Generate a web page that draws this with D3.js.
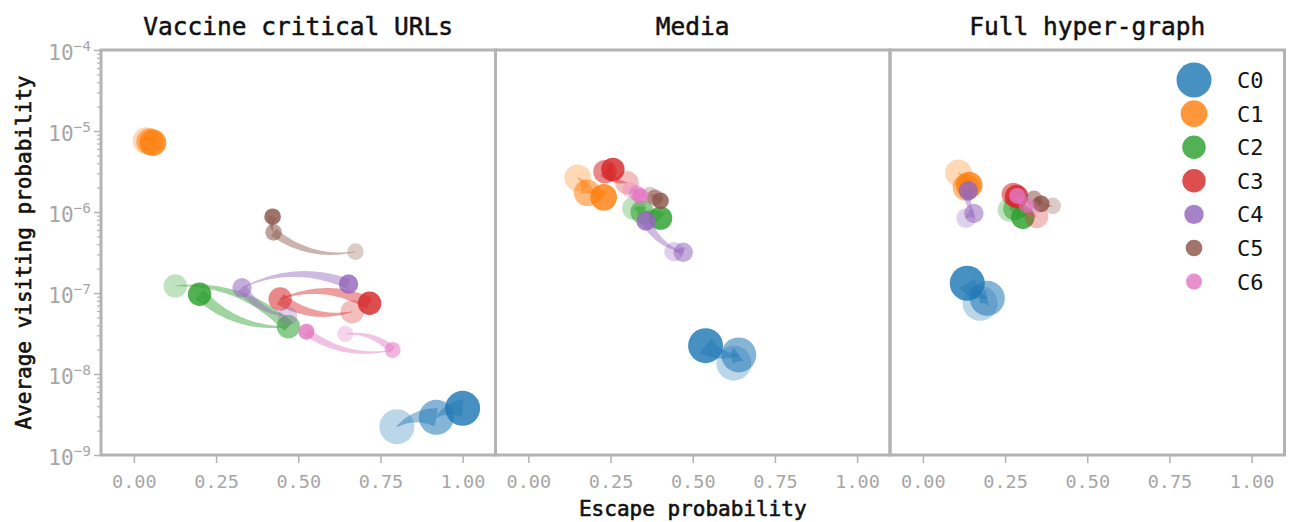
<!DOCTYPE html>
<html>
<head>
<meta charset="utf-8">
<script src="https://cdn.jsdelivr.net/npm/d3@7"></script>
<style>
body { margin: 0; background: #fff; }
text { font-family: "DejaVu Sans Mono", monospace; }
</style>
</head>
<body>
<div id="chart"></div>
<script>

const panelTitles = ["Vaccine critical URLs", "Media", "Full hyper-graph"]
const clusters = ["C0", "C1", "C2", "C3", "C4", "C5", "C6"]
const clusterSize = [306, 177, 137, 137, 94, 69, 64]
const xTicks = [0, 0.25, 0.5, 0.75, 1]
const yTicks = [1e-9, 1e-8, 1e-7, 1e-6, 1e-5, 1e-4]

// three snapshots per cluster, oldest first
const escVaccine = [
  [0.80, 0.92, 1.00], [0.037, 0.048, 0.058], [0.126, 0.47, 0.20], [0.664, 0.445, 0.717],
  [0.468, 0.329, 0.653], [0.674, 0.425, 0.422], [0.643, 0.787, 0.525]
]
const visVaccine = [
  [2.24e-9, 2.92e-9, 3.77e-9], [7.6e-6, 7.4e-6, 7.17e-6], [1.22e-7, 3.84e-8, 9.64e-8], [5.88e-8, 8.43e-8, 7.46e-8],
  [5.2e-8, 1.16e-7, 1.29e-7], [3.24e-7, 5.61e-7, 8.75e-7], [3.12e-8, 1.98e-8, 3.33e-8]
]
const escMedia = [
  [0.625, 0.640, 0.539], [0.150, 0.179, 0.229], [0.321, 0.346, 0.402], [0.30, 0.233, 0.257],
  [0.443, 0.471, 0.358], [0.37, 0.385, 0.402], [0.31, 0.33, 0.34]
]
const visMedia = [
  [1.36e-8, 1.72e-8, 2.24e-8], [2.65e-6, 1.73e-6, 1.52e-6], [1.11e-6, 1.0e-6, 8.4e-7], [2.3e-6, 3.15e-6, 3.36e-6],
  [3.24e-7, 3.18e-7, 7.74e-7], [1.62e-6, 1.5e-6, 1.37e-6], [1.86e-6, 1.7e-6, 1.58e-6]
]
const escFull = [
  [0.174, 0.196, 0.135], [0.108, 0.131, 0.141], [0.263, 0.28, 0.304], [0.346, 0.275, 0.285],
  [0.131, 0.155, 0.138], [0.395, 0.338, 0.36], [0.33, 0.315, 0.287]
]
const visFull = [
  [7.46e-8, 8.6e-8, 1.32e-7], [3.05e-6, 2.02e-6, 2.15e-6], [1.06e-6, 1.1e-6, 8.6e-7], [8.8e-7, 1.65e-6, 1.55e-6],
  [8.36e-7, 9.6e-7, 1.83e-6], [1.19e-6, 1.45e-6, 1.26e-6], [1.1e-6, 1.22e-6, 1.58e-6]
]

const panels = [
  { title: panelTitles[0], esc: escVaccine, vis: visVaccine },
  { title: panelTitles[1], esc: escMedia, vis: visMedia },
  { title: panelTitles[2], esc: escFull, vis: visFull }
]

const width = 1293, height = 522
const plotTop = 50, plotBottom = 455
const panelW = 394.5
const left0 = 101
const spineCol = "#b3b3b3"
const tickLabCol = "#a6a6a6"
const stepAlpha = [0.3, 0.55, 0.82]
const colors = d3.schemeCategory10.slice(0, 7)

const svg = d3.select("#chart").append("svg").attr("width", width).attr("height", height)

const rScale = d3.scaleSqrt().domain([0, d3.max(clusterSize)]).range([0, 17.5])
const yScale = d3.scaleLog().domain([1e-9, 1e-4]).range([plotBottom, plotTop])

// tapered curved band from p0 (thin) to p1 (wide)
function wedge(p0, p1, wEnd, rad) {
  const dx = p1[0] - p0[0], dy = p1[1] - p0[1]
  const c = [(p0[0] + p1[0]) / 2 + rad * dy, (p0[1] + p1[1]) / 2 - rad * dx]
  const L = [], R = []
  const n = 40
  for (let i = 0; i <= n; i++) {
    const t = i / n
    const bx = (1 - t) * (1 - t) * p0[0] + 2 * t * (1 - t) * c[0] + t * t * p1[0]
    const by = (1 - t) * (1 - t) * p0[1] + 2 * t * (1 - t) * c[1] + t * t * p1[1]
    let tx = 2 * (1 - t) * (c[0] - p0[0]) + 2 * t * (p1[0] - c[0])
    let ty = 2 * (1 - t) * (c[1] - p0[1]) + 2 * t * (p1[1] - c[1])
    const len = Math.hypot(tx, ty) || 1
    const w = wEnd * (0.06 + 0.94 * t) / 2
    L.push([bx - ty / len * w, by + tx / len * w])
    R.push([bx + ty / len * w, by - tx / len * w])
  }
  return L.concat(R.reverse())
}
const polyLine = d3.line().curve(d3.curveLinearClosed)

panels.forEach(function (p, pi) {
  const x0 = left0 + pi * panelW
  const xScale = d3.scaleLinear().domain([-0.1, 1.1]).range([x0, x0 + panelW])
  const g = svg.append("g")

  // title
  g.append("text")
    .attr("x", x0 + panelW / 2).attr("y", 35)
    .attr("text-anchor", "middle")
    .attr("font-size", 24.5)
    .attr("fill", "#111").attr("stroke", "#111").attr("stroke-width", 0.5)
    .text(p.title)

  // x axis
  const ax = d3.axisBottom(xScale).tickValues(xTicks).tickFormat(d3.format(".2f")).tickSize(8).tickPadding(12)
  const axG = g.append("g").attr("transform", `translate(0,${plotBottom})`).call(ax)
  axG.select(".domain").remove()
  axG.selectAll("line").attr("stroke", spineCol).attr("stroke-width", 1.5)
  axG.selectAll("text").attr("fill", tickLabCol).attr("font-size", 18.5).attr("font-family", "DejaVu Sans Mono")

  // points + trajectories
  p.esc.forEach(function (xs, ci) {
    const r = rScale(clusterSize[ci])
    const pts = xs.map((v, k) => [xScale(v), yScale(p.vis[ci][k])])
    pts.forEach(function (pt, k) {
      g.append("circle")
        .attr("cx", pt[0]).attr("cy", pt[1]).attr("r", r)
        .attr("fill", colors[ci]).attr("fill-opacity", stepAlpha[k])
    })
    for (let k = 0; k < pts.length - 1; k++) {
      g.append("path")
        .attr("d", polyLine(wedge(pts[k], pts[k + 1], r * 1.05, 0.22)))
        .attr("fill", colors[ci]).attr("fill-opacity", 0.45)
    }
  })

  // frame
  g.append("rect")
    .attr("x", x0).attr("y", plotTop)
    .attr("width", panelW).attr("height", plotBottom - plotTop)
    .attr("fill", "none").attr("stroke", spineCol).attr("stroke-width", 3)
})

// y axis, left panel only
const minorTicks = []
for (let e = -9; e < -4; e++) for (let m = 2; m < 10; m++) minorTicks.push(m * Math.pow(10, e))

const yMinor = svg.append("g").attr("transform", `translate(${left0},0)`)
  .call(d3.axisLeft(yScale).tickValues(minorTicks).tickFormat("").tickSize(4))
yMinor.select(".domain").remove()
yMinor.selectAll("line").attr("stroke", spineCol).attr("stroke-width", 1.2)

const yMajor = svg.append("g").attr("transform", `translate(${left0},0)`)
  .call(d3.axisLeft(yScale).tickValues(yTicks).tickFormat("").tickSize(7).tickPadding(3))
yMajor.select(".domain").remove()
yMajor.selectAll("line").attr("stroke", spineCol).attr("stroke-width", 1.5)
yMajor.selectAll(".tick text")
  .attr("fill", tickLabCol).attr("font-size", 21).attr("font-family", "DejaVu Sans Mono")
  .attr("dy", "0.45em")
  .each(function (d) {
    const t = d3.select(this)
    t.append("tspan").text("10")
    t.append("tspan").attr("dy", -9).attr("font-size", 14.5).text(String(Math.round(Math.log10(d))).replace("-", "\u2212"))
  })

// axis labels
svg.append("text")
  .attr("x", left0 + panelW * 1.5).attr("y", 516)
  .attr("text-anchor", "middle").attr("font-size", 21)
  .attr("fill", "#111").attr("stroke", "#111").attr("stroke-width", 0.6)
  .text("Escape probability")

svg.append("text")
  .attr("transform", `translate(31,${(plotTop + plotBottom) / 2}) rotate(-90)`)
  .attr("text-anchor", "middle").attr("font-size", 21)
  .attr("fill", "#111").attr("stroke", "#111").attr("stroke-width", 0.6)
  .text("Average visiting probability")

// legend
const legend = svg.append("g")
clusters.forEach(function (c, i) {
  const cy = 80 + i * 33.6
  legend.append("circle")
    .attr("cx", 1194).attr("cy", cy).attr("r", rScale(clusterSize[i]))
    .attr("fill", colors[i]).attr("fill-opacity", 0.82)
  legend.append("text")
    .attr("x", 1237).attr("y", cy).attr("dy", "0.36em")
    .attr("font-size", 22).attr("fill", "#111")
    .text(c)
})

</script>
</body>
</html>
